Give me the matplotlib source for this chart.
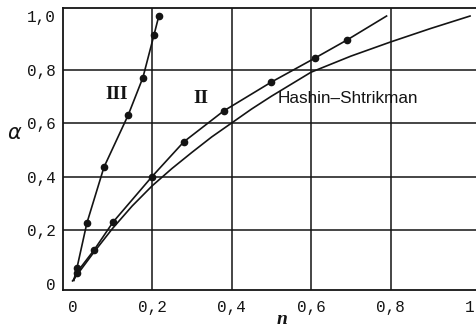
import matplotlib
matplotlib.use('Agg')
import matplotlib.pyplot as plt

# curve III (measured points)
n_III = [0.011, 0.036, 0.079, 0.14, 0.177, 0.205, 0.217]
a_III = [0.058, 0.226, 0.435, 0.63, 0.77, 0.93, 1.0]

# curve II (measured points) and the end of its line
n_II = [0.01, 0.054, 0.102, 0.20, 0.28, 0.38, 0.50, 0.61, 0.69]
a_II = [0.04, 0.125, 0.23, 0.40, 0.53, 0.645, 0.753, 0.843, 0.91]
n_II_end = 0.79
a_II_end = 1.0

# Hashin-Shtrikman curve
n_hs = [0.0, 0.02, 0.05, 0.1, 0.15, 0.2, 0.25, 0.3, 0.35, 0.4, 0.45, 0.5,
        0.6, 0.7, 0.8, 0.9, 1.0]
a_hs = [0.01, 0.05, 0.11, 0.205, 0.29, 0.365, 0.43, 0.49, 0.548, 0.60, 0.652, 0.70,
        0.79, 0.85, 0.903, 0.953, 1.0]

x_ticks = [0, 0.2, 0.4, 0.6, 0.8, 1.0]
x_labels = ['0', '0,2', '0,4', '0,6', '0,8', '1']
y_ticks = [0, 0.2, 0.4, 0.6, 0.8, 1.0]
y_labels = ['0', '0,2', '0,4', '0,6', '0,8', '1,0']

ink = '#141414'

fig = plt.figure(figsize=(4.76, 3.28), dpi=100)
ax = fig.add_axes([0.1324, 0.1159, 0.8676, 0.8597])

for v in [0.2, 0.4, 0.6, 0.8]:
    ax.axvline(v, color=ink, lw=1.1, zorder=1)
    ax.axhline(v, color=ink, lw=1.1, zorder=1)

# III
ax.plot([0.003] + n_III, [0.012] + a_III, color=ink, lw=1.2, zorder=3)
ax.plot(n_III, a_III, 'o', color=ink, ms=4.5, zorder=4)
# II
ax.plot([0.003] + n_II + [n_II_end], [0.012] + a_II + [a_II_end], color=ink, lw=1.2, zorder=3)
ax.plot(n_II, a_II, 'o', color=ink, ms=4.5, zorder=4)
# Hashin-Shtrikman
ax.plot(n_hs, a_hs, color=ink, lw=1.2, zorder=3)

ax.text(0.112, 0.705, 'III', family='Liberation Serif', weight='bold',
        fontsize=14, ha='center', va='center', color=ink)
ax.text(0.323, 0.69, 'II', family='Liberation Serif', weight='bold',
        fontsize=14, ha='center', va='center', color=ink)
ax.text(0.517, 0.69, 'Hashin\u2013Shtrikman', family='Liberation Sans',
        fontsize=12.3, ha='left', va='center', color=ink)

ax.set_xlim(-0.024, 1.015)
ax.set_ylim(-0.024, 1.030)
ax.set_xticks(x_ticks)
ax.set_xticklabels(x_labels, family='Liberation Mono', fontsize=11.5, color=ink)
ax.set_yticks(y_ticks)
ax.set_yticklabels(y_labels, family='Liberation Mono', fontsize=11.5, color=ink)
ax.tick_params(length=0)
ax.tick_params(axis='x', pad=7)
ax.tick_params(axis='y', pad=5)

for s in ['left', 'bottom', 'top']:
    ax.spines[s].set_linewidth(1.3)
    ax.spines[s].set_color(ink)
ax.spines['right'].set_visible(False)

fig.text(15 / 476, 1 - 133 / 328, r'$\alpha$', fontsize=15, ha='center', va='center', color=ink)
fig.text(282 / 476, 1 - 320 / 328, 'n', family='Liberation Serif', style='italic',
         weight='bold', fontsize=14, ha='center', va='center', color=ink)

fig.savefig('out.png', dpi=100)
